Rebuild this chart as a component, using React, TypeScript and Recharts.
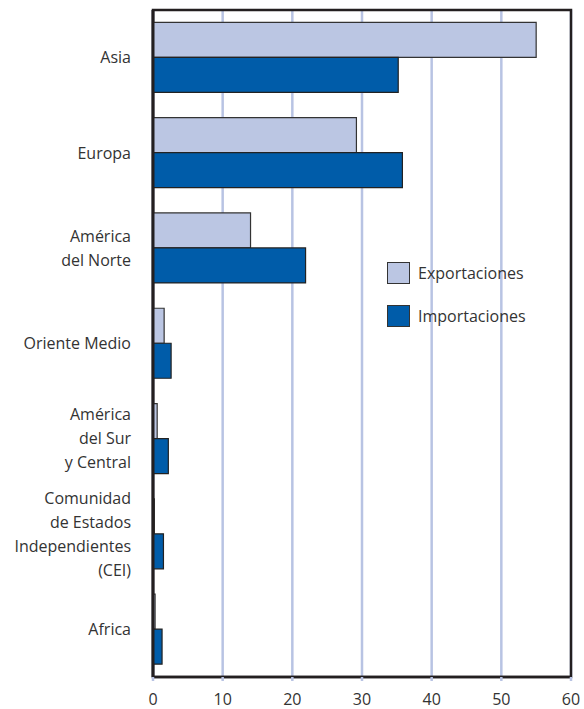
import React from "react";
import {
  BarChart, Bar, XAxis, YAxis, CartesianGrid, Legend, ReferenceArea,
} from "recharts";

const regions = [
  "Asia",
  "Europa",
  "América\ndel Norte",
  "Oriente Medio",
  "América\ndel Sur\ny Central",
  "Comunidad\nde Estados\nIndependientes\n(CEI)",
  "Africa",
];
const exportaciones = [55.0, 29.2, 14.0, 1.6, 0.6, 0.2, 0.3];
const importaciones = [35.2, 35.8, 21.9, 2.6, 2.2, 1.5, 1.3];
const xTicks = [0, 10, 20, 30, 40, 50, 60];

const data = regions.map((name, i) => ({
  name,
  exp: exportaciones[i],
  imp: importaciones[i],
}));

const FONT = "'Open Sans', sans-serif";
const TEXT = "#333333";
const EXP_FILL = "#bbc6e3";
const IMP_FILL = "#005ca9";
const GRID = "#b8c3e3";
const BORDER = "#231f20";
const LINE_H = 24;

function RegionTick(props: any) {
  const { x, y, payload } = props;
  const lines = String(payload.value).split("\n");
  const start = -((lines.length - 1) * LINE_H) / 2;
  return (
    <text x={x} y={y} textAnchor="end" fill={TEXT} fontSize={16} fontFamily={FONT}>
      {lines.map((l, i) => (
        <tspan key={i} x={x} y={y + start + i * LINE_H} dy="0.35em">{l}</tspan>
      ))}
    </text>
  );
}

function LegendBox() {
  const items = [
    { label: "Exportaciones", fill: EXP_FILL },
    { label: "Importaciones", fill: IMP_FILL },
  ];
  return (
    <div style={{ fontFamily: FONT, fontSize: 16, color: TEXT }}>
      {items.map((it, i) => (
        <div key={i} style={{ display: "flex", alignItems: "center", height: 22, marginBottom: i === 0 ? 21 : 0 }}>
          <div style={{ width: 21, height: 20, background: it.fill, border: "1.5px solid #333", marginRight: 8 }} />
          <span>{it.label}</span>
        </div>
      ))}
    </div>
  );
}

export default function App() {
  return (
    <div style={{ width: 584, height: 709, background: "#fff" }}>
      <style>{`body{margin:0}`}</style>
      <BarChart
        width={584}
        height={709}
        data={data}
        layout="vertical"
        margin={{ top: 10, right: 13, bottom: 0, left: 0 }}
        barCategoryGap="13%"
        barGap={0}
      >
        <CartesianGrid horizontal={false} stroke={GRID} strokeWidth={2.5} />
        <XAxis
          type="number"
          domain={[0, 60]}
          ticks={xTicks}
          height={32}
          axisLine={{ stroke: BORDER, strokeWidth: 2.5 }}
          tickLine={{ stroke: GRID, strokeWidth: 2.5 }}
          tickSize={4}
          tickMargin={13}
          tick={{ fill: TEXT, fontSize: 16, fontFamily: FONT }}
        />
        <YAxis
          type="category"
          dataKey="name"
          width={153}
          axisLine={{ stroke: BORDER, strokeWidth: 3 }}
          tickLine={false}
          tickSize={0}
          tickMargin={22}
          tick={<RegionTick />}
        />
        <Bar dataKey="exp" name="Exportaciones" fill={EXP_FILL} stroke="#333" strokeWidth={1.2} isAnimationActive={false} />
        <Bar dataKey="imp" name="Importaciones" fill={IMP_FILL} stroke="#222" strokeWidth={1.2} isAnimationActive={false} />
        <ReferenceArea x1={0} x2={60} fill="none" stroke={BORDER} strokeWidth={2.5} ifOverflow="visible" />
        <Legend
          layout="vertical"
          align="center"
          verticalAlign="middle"
          content={<LegendBox />}
          wrapperStyle={{ position: "absolute", left: 387, top: 262, width: 180 }}
        />
      </BarChart>
    </div>
  );
}
